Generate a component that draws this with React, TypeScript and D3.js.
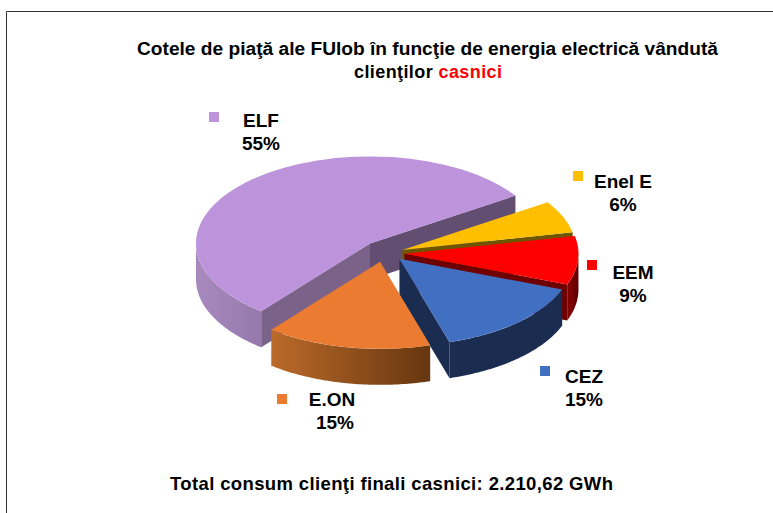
import React from "react";
import * as d3 from "d3";

const categories = ["ELF", "Enel E", "EEM", "CEZ", "E.ON"];
const shares = [55, 6, 9, 14.6, 15.4];
const percentLabels = ["55%", "6%", "9%", "15%", "15%"];
const topColors = ["#bd93dc", "#fdbf00", "#ff0000", "#4170c2", "#ea7b31"];
const edgeColors = ["#614e71", "#6e5500", "#6e0000", "#1a2c50", "#66360f"];
const startEdgeColors = ["#7a6288", "#6e5500", "#6e0000", "#1a2c50", "#66360f"];
const sideFrom = ["#a88abf", "#6e5500", "#8a0000", "#1a2c50", "#bb6a2a"];
const sideTo = ["#9578ac", "#6e5500", "#5e0000", "#1a2c50", "#66360f"];
const explode = [26, 16, 17, 16, 18];
const nudgeX = [0, 0, 0, 1, -4];
const legendPos: [number, number, number, number, number][] = [
  [209, 112, 261, 127, 0],
  [573, 171, 623, 188, 0],
  [587, 260, 633, 279, 0],
  [540, 366, 584, 383, 0],
  [277, 394, 332, 406, 3],
];

const W = 773, H = 513;
const cx = 387.5, cy = 253, R = 174, tilt = 0.5, depth = 36;
const startDeg = 218.7;
const rad = (d: number) => (d * Math.PI) / 180;

const pie = d3.pie<number>().sort(null)
  .startAngle(rad(startDeg)).endAngle(rad(startDeg + 360));
const arcs = pie(shares);
const arcGen = d3.arc<d3.PieArcDatum<number>>().innerRadius(0).outerRadius(R);
const line = d3.line();

export default function App() {
  const slices = arcs.map((a, i) => {
    const mid = (a.startAngle + a.endAngle) / 2;
    const ax = cx + explode[i] * Math.sin(mid) + nudgeX[i];
    const ay = cy - explode[i] * tilt * Math.cos(mid);
    const pt = (t: number, dz = 0): [number, number] => [
      ax + R * Math.sin(t), ay - R * tilt * Math.cos(t) + dz,
    ];
    const walls: { d: string; fill: string }[] = [];
    const wall = (t: number) => line([[ax, ay], pt(t), pt(t, depth), [ax, ay + depth]])! + "Z";
    if (Math.sin(a.startAngle) < 0) walls.push({ d: wall(a.startAngle), fill: startEdgeColors[i] });
    if (Math.sin(a.endAngle) > 0) walls.push({ d: wall(a.endAngle), fill: edgeColors[i] });
    // outer rim: only the part of the arc that faces the viewer (angles wrap past 360 degrees)
    const turn = a.startAngle >= rad(360) ? 2 * Math.PI : 0;
    const from = Math.max(a.startAngle, Math.PI / 2 + turn);
    const to = Math.min(a.endAngle, (3 * Math.PI) / 2 + turn);
    let rim: string | null = null;
    let x0 = 0, x1 = 0;
    if (to > from) {
      const ts = d3.range(0, 61).map((k) => from + ((to - from) * k) / 60);
      rim = line([...ts.map((t) => pt(t)), ...ts.slice().reverse().map((t) => pt(t, depth))])! + "Z";
      const xs = ts.map((t) => pt(t)[0]);
      x0 = d3.min(xs)!; x1 = d3.max(xs)!;
    }
    return { a, i, ax, ay, walls, rim, x0, x1 };
  });

  const textStyle = { fontFamily: "'Liberation Sans', Arial, sans-serif", fontWeight: 700 };

  return (
    <svg width={W} height={H} style={{ position: "absolute", left: 0, top: 0, background: "#fff" }}>
      <defs>
        {slices.map((s) => (
          <linearGradient key={s.i} id={`rim${s.i}`} gradientUnits="userSpaceOnUse" x1={s.x0} x2={s.x1} y1={0} y2={0}>
            <stop offset="0" stopColor={sideFrom[s.i]} />
            <stop offset="1" stopColor={sideTo[s.i]} />
          </linearGradient>
        ))}
      </defs>
      <path d="M6.5 513V11.5H773" fill="none" stroke="#333" strokeWidth={1} />
      {slices.map((s) => (
        <g key={s.i}>
          {s.walls.map((w, k) => <path key={k} d={w.d} fill={w.fill} />)}
          {s.rim && <path d={s.rim} fill={`url(#rim${s.i})`} />}
          <path d={arcGen(s.a)!} transform={`translate(${s.ax},${s.ay}) scale(1,${tilt})`} fill={topColors[s.i]} />
        </g>
      ))}
      <g style={textStyle} fill="#000" textAnchor="middle">
        <text x={427.5} y={55} fontSize={18} textLength={581} lengthAdjust="spacingAndGlyphs">Cotele de piaţă ale FUlob în funcţie de energia electrică vândută</text>
        <text x={428} y={78} fontSize={18} textLength={148} lengthAdjust="spacing">clienţilor  <tspan fill="#ff0000">casnici</tspan></text>
        <text x={391.5} y={490} fontSize={18.5} textLength={443} lengthAdjust="spacing">Total consum clienţi finali casnici: 2.210,62 GWh</text>
        {categories.map((c, i) => {
          const [sx, sy, tx, ty, pctShift] = legendPos[i];
          return (
            <g key={c}>
              <rect x={sx} y={sy} width={10} height={10} fill={topColors[i]} />
              <text x={tx} y={ty} fontSize={19}>{c}</text>
              <text x={tx + pctShift} y={ty + 23} fontSize={19}>{percentLabels[i]}</text>
            </g>
          );
        })}
      </g>
    </svg>
  );
}
